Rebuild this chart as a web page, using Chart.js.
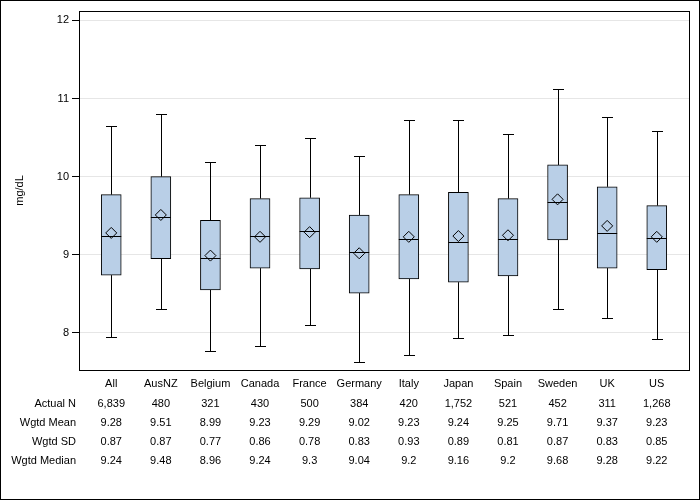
<!DOCTYPE html>
<html>
<head>
<meta charset="utf-8">
<script src="https://cdn.jsdelivr.net/npm/chart.js@4/dist/chart.umd.min.js"></script>
<style>
  html, body { margin: 0; padding: 0; background: #fff; }
  #wrap { width: 700px; height: 500px; }
</style>
</head>
<body>
<div id="wrap"><canvas id="c" width="700" height="500"></canvas></div>
<script>
const categories = ['All','AusNZ','Belgium','Canada','France','Germany','Italy','Japan','Spain','Sweden','UK','US'];
const whiskerHigh = [10.65,10.80,10.19,10.40,10.50,10.26,10.72,10.72,10.54,11.12,10.76,10.58];
const q3 = [9.77,10.00,9.44,9.72,9.73,9.51,9.77,9.80,9.72,10.15,9.87,9.63];
const q1 = [8.74,8.95,8.55,8.83,8.82,8.51,8.69,8.65,8.73,9.19,8.83,8.81];
const whiskerLow = [7.95,8.31,7.77,7.83,8.10,7.63,7.72,7.94,7.97,8.31,8.19,7.92];
const actualN = ['6,839','480','321','430','500','384','420','1,752','521','452','311','1,268'];
const wgtdMean = [9.28,9.51,8.99,9.23,9.29,9.02,9.23,9.24,9.25,9.71,9.37,9.23];
const wgtdSD = [0.87,0.87,0.77,0.86,0.78,0.83,0.93,0.89,0.81,0.87,0.83,0.85];
const wgtdMedian = [9.24,9.48,8.96,9.24,9.3,9.04,9.2,9.16,9.2,9.68,9.28,9.22];
const yTicks = [8,9,10,11,12];
const tableRows = [
  ['Actual N', actualN],
  ['Wgtd Mean', wgtdMean],
  ['Wgtd SD', wgtdSD],
  ['Wgtd Median', wgtdMedian]
];

const FONT = '"Liberation Sans", Arial, sans-serif';
const BOX_W = 20;
const CAP_W = 11;

const boxPlugin = {
  id: 'boxParts',
  beforeDatasetsDraw(chart) {
    const {ctx, scales: {x, y}} = chart;
    ctx.save();
    ctx.strokeStyle = '#000';
    ctx.lineWidth = 1;
    categories.forEach((c, i) => {
      const px = Math.round(x.getPixelForValue(i)) + 0.5;
      const yh = Math.round(y.getPixelForValue(whiskerHigh[i])) + 0.5;
      const y3 = y.getPixelForValue(q3[i]);
      const y1 = y.getPixelForValue(q1[i]);
      const yl = Math.round(y.getPixelForValue(whiskerLow[i])) + 0.5;
      ctx.beginPath();
      ctx.moveTo(px, yh); ctx.lineTo(px, y3);
      ctx.moveTo(px, y1); ctx.lineTo(px, yl);
      ctx.moveTo(px - CAP_W / 2, yh); ctx.lineTo(px + CAP_W / 2, yh);
      ctx.moveTo(px - CAP_W / 2, yl); ctx.lineTo(px + CAP_W / 2, yl);
      ctx.stroke();
    });
    ctx.restore();
  },
  afterDatasetsDraw(chart) {
    const {ctx, chartArea: a, scales: {x, y}} = chart;
    ctx.save();
    ctx.strokeStyle = '#000';
    ctx.lineWidth = 1;
    // median lines
    categories.forEach((c, i) => {
      const px = x.getPixelForValue(i);
      const ym = Math.round(y.getPixelForValue(wgtdMedian[i])) + 0.5;
      ctx.beginPath();
      ctx.moveTo(px - BOX_W / 2, ym); ctx.lineTo(px + BOX_W / 2, ym);
      ctx.stroke();
    });
    // plot frame
    ctx.strokeRect(Math.round(a.left) + 0.5, Math.round(a.top) + 0.5,
                   Math.round(a.right - a.left), Math.round(a.bottom - a.top));
    // outer border
    ctx.strokeRect(0.5, 0.5, 699, 499);
    // table
    ctx.fillStyle = '#000';
    ctx.font = '11px ' + FONT;
    ctx.textBaseline = 'middle';
    const rowY = [404, 423, 442, 461];
    tableRows.forEach((row, r) => {
      ctx.textAlign = 'right';
      ctx.fillText(row[0], 76, rowY[r]);
      ctx.textAlign = 'center';
      row[1].forEach((v, i) => {
        ctx.fillText(String(v), x.getPixelForValue(i), rowY[r]);
      });
    });
    ctx.restore();
  }
};

new Chart(document.getElementById('c'), {
  type: 'bar',
  data: {
    datasets: [
      {
        type: 'bar',
        order: 2,
        data: categories.map((c, i) => ({x: i, y: [q1[i], q3[i]]})),
        backgroundColor: '#b9cfe7',
        borderColor: '#000',
        borderWidth: 1,
        borderSkipped: false,
        barThickness: BOX_W
      },
      {
        type: 'scatter',
        order: 1,
        data: categories.map((c, i) => ({x: i, y: wgtdMean[i]})),
        pointStyle: 'rectRot',
        pointRadius: 5.5,
        pointBackgroundColor: 'rgba(0,0,0,0)',
        pointBorderColor: '#000',
        pointBorderWidth: 1,
        showLine: false
      }
    ]
  },
  options: {
    responsive: false,
    animation: false,
    devicePixelRatio: 1,
    layout: { padding: { left: 0, top: 11, right: 11, bottom: 0 } },
    plugins: { legend: { display: false }, tooltip: { enabled: false } },
    scales: {
      x: {
        type: 'linear',
        min: -0.65,
        max: 11.65,
        offset: false,
        grid: { display: false, drawTicks: false },
        border: { display: false },
        afterBuildTicks(scale) { scale.ticks = categories.map((c, i) => ({value: i})); },
        afterFit(scale) { scale.height = 130; },
        ticks: {
          autoSkip: false,
          maxRotation: 0,
          padding: 7,
          color: '#000',
          font: { family: FONT, size: 11 },
          callback: (v) => categories[v]
        }
      },
      y: {
        type: 'linear',
        min: 7.526,
        max: 12.12,
        afterBuildTicks(scale) { scale.ticks = yTicks.map(v => ({value: v})); },
        afterFit(scale) { scale.width = 79; },
        grid: { color: '#e6e6e6', tickColor: '#000', tickLength: 7, drawTicks: true },
        border: { display: false },
        ticks: {
          padding: 3,
          color: '#000',
          font: { family: FONT, size: 11 }
        },
        title: {
          display: true,
          text: 'mg/dL',
          color: '#000',
          font: { family: FONT, size: 11 },
          padding: { top: 13, bottom: 0 }
        }
      }
    }
  },
  plugins: [boxPlugin]
});
</script>
</body>
</html>
